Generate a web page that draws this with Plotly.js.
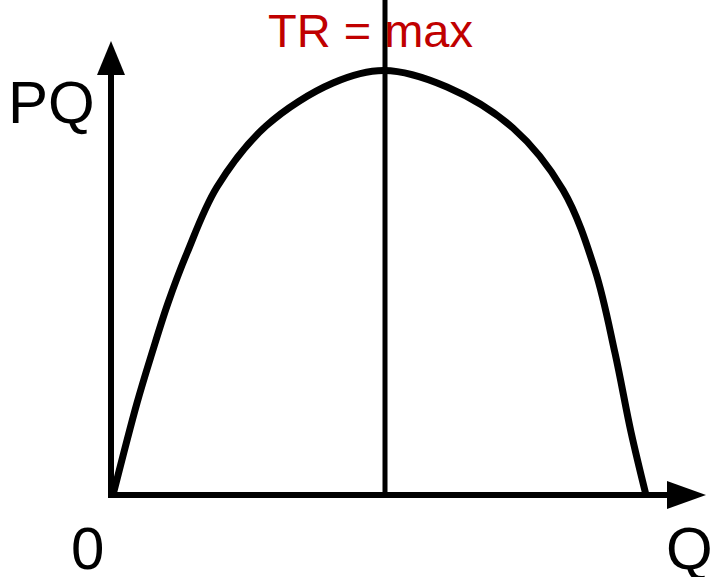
<!DOCTYPE html>
<html>
<head>
<meta charset="utf-8">
<script src="https://cdn.plot.ly/plotly-3.0.1.min.js"></script>
<style>html,body{margin:0;padding:0;background:#fff;}#chart{width:711px;height:577px;}</style>
</head>
<body>
<div id="chart"></div>
<script>
// Total revenue curve TR = P*Q
const quantity = [0.2, 2.6, 4.1, 5.7, 7.6, 10.6, 15.5, 22.2, 27.3, 33.6, 40.2, 45.2, 48.4, 50.4, 52.0, 53.5];
const revenue  = [0.0, 9.2, 14.2, 19.2, 24.2, 30.8, 36.9, 41.2, 42.45, 40.8, 36.7, 30.5, 22.5, 14.2, 6.3, 0.0];
// vertical line at the revenue maximum
const maxQ = [27.4, 27.4];
const maxY = [0, 50];
// labels
const yLabel = "PQ";
const xLabel = "Q";
const originLabel = "0";
const maxLabel = "TR = max";

const font = "Liberation Sans, Arial, sans-serif";

const traces = [
  {x: maxQ, y: maxY, mode: "lines", line: {color: "#000", width: 5}, hoverinfo: "skip"},
  {x: quantity, y: revenue, mode: "lines", line: {color: "#000", width: 7, shape: "spline", smoothing: 1.0}, hoverinfo: "skip"}
];

const layout = {
  width: 711, height: 577,
  margin: {l: 0, r: 0, t: 0, b: 0},
  paper_bgcolor: "#fff", plot_bgcolor: "#fff",
  showlegend: false,
  xaxis: {range: [-11.1, 60.0], visible: false, fixedrange: true},
  yaxis: {range: [-8.2, 49.5], visible: false, fixedrange: true},
  shapes: [
    {type: "line", xref: "x", yref: "y", x0: 0, x1: 0, y0: -0.3, y1: 42.5, line: {color: "#000", width: 6}},
    {type: "path", xref: "x", yref: "y", path: "M -1.4 42 L 1.4 42 L 0 45.4 Z", fillcolor: "#000", line: {color: "#000", width: 0}},
    {type: "line", xref: "x", yref: "y", x0: -0.3, x1: 56, y0: 0, y1: 0, line: {color: "#000", width: 6}},
    {type: "path", xref: "x", yref: "y", path: "M 55.6 1.4 L 55.6 -1.4 L 59.5 0 Z", fillcolor: "#000", line: {color: "#000", width: 0}}
  ],
  annotations: [
    {text: yLabel, xref: "paper", yref: "paper", x: 6/711, y: 1 - 102/577, xanchor: "left", yanchor: "middle", showarrow: false, font: {family: font, size: 60, color: "#000"}},
    {text: originLabel, xref: "paper", yref: "paper", x: 87.5/711, y: 1 - 548/577, xanchor: "center", yanchor: "middle", showarrow: false, font: {family: font, size: 60, color: "#000"}},
    {text: xLabel, xref: "paper", yref: "paper", x: 664/711, y: 1 - 548/577, xanchor: "left", yanchor: "middle", showarrow: false, font: {family: font, size: 60, color: "#000"}},
    {text: maxLabel, xref: "paper", yref: "paper", x: 370.5/711, y: 1 - 30/577, xanchor: "center", yanchor: "middle", showarrow: false, font: {family: font, size: 47, color: "#c00000"}}
  ]
};

Plotly.newPlot("chart", traces, layout, {displayModeBar: false, staticPlot: true});
</script>
</body>
</html>
